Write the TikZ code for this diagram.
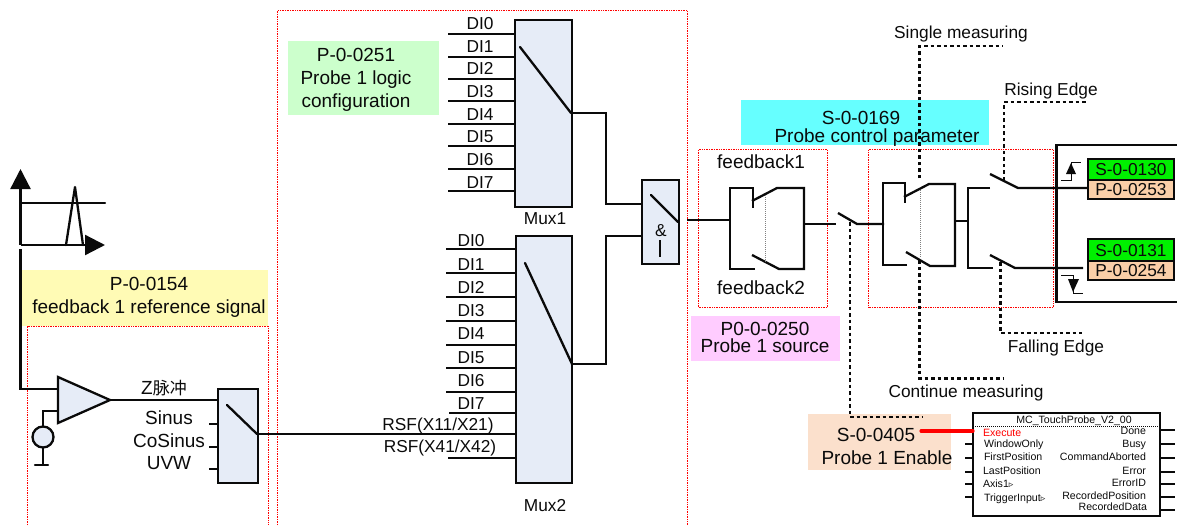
\documentclass[tikz,border=0pt]{standalone}
\usepackage{fontspec}
\setmainfont{Liberation Sans}
\newfontfamily\cjkf{Noto Sans CJK SC}
\newfontfamily\symf{DejaVu Sans}
\usetikzlibrary{arrows.meta}
\definecolor{muxfill}{HTML}{E6ECF7}
\definecolor{regorange}{HTML}{FACFA8}
\definecolor{regenable}{HTML}{FBE0CC}
\definecolor{reggreen}{HTML}{00F000}
\definecolor{palegreen}{HTML}{CCFFCC}
\definecolor{palecyan}{HTML}{66FFFF}
\definecolor{paleyellow}{HTML}{FFFBB5}
\definecolor{palepink}{HTML}{FFCCFF}
\definecolor{ink}{HTML}{0A0A0A}
\tikzset{
  wire/.style={draw=ink,line width=2.3pt,line cap=round,line join=miter},
  ctrl/.style={draw=ink,line width=2.3pt,dash pattern=on 3.5pt off 3pt},
  link/.style={draw=gray,line width=.9pt,dash pattern=on 1pt off 1pt},
  region/.style={draw=red,line width=.9pt,dash pattern=on 1pt off .7pt},
  muxbox/.style={draw=ink,fill=muxfill,line width=2.3pt,inner sep=0pt,outer sep=0pt},
  band/.style={inner sep=0pt,outer sep=0pt,draw=none},
  reg/.style={draw=ink,line width=2.3pt,inner sep=0pt,outer sep=0pt,minimum width=86pt},
  big/.style={font=\fontsize{19}{22}\selectfont,text=ink,text height=13.7pt,text depth=0pt,inner sep=0pt,outer sep=0pt},
  mid/.style={font=\fontsize{17.3}{21}\selectfont,text=ink,text height=12.4pt,text depth=0pt,inner sep=0pt,outer sep=0pt},
  pin/.style={font=\fontsize{10.6}{12}\selectfont,text=ink,text height=7.7pt,text depth=0pt,inner sep=0pt,outer sep=0pt},
  tip/.style={-{Triangle[length=#1,width=#1]}},
}
\begin{document}
\begin{tikzpicture}[x=1pt,y=-1pt]
\useasboundingbox (0,0) rectangle (1177,525);
% colour bands
\node[band,fill=paleyellow,minimum width=246pt,minimum height=56pt] (yellow) at (145,298) {};
\node[band,fill=palegreen,minimum width=151pt,minimum height=74pt] (green) at (363.5,78) {};
\node[band,fill=palecyan,minimum width=248pt,minimum height=45pt] (cyan) at (865,122.5) {};
\node[band,fill=palepink,minimum width=149pt,minimum height=45pt] (pink) at (765.5,338.5) {};
\node[band,fill=regenable,minimum width=143pt,minimum height=56pt] (enable) at (879.5,442) {};
% dotted regions
\draw[region] (27.5,525) -- (27.5,326) -- (268.5,326) -- (268.5,525);
\draw[region] (277.5,525) -- (277.5,10.5) -- (687.5,10.5) -- (687.5,525);
\node[region,minimum width=129pt,minimum height=158pt,inner sep=0pt] (fbregion) at (763,228.5) {};
\node[region,minimum width=185pt,minimum height=158pt,inner sep=0pt] (modeRegion) at (961,228.5) {};
% texts on bands
\node[big] (t154a) at (149,284) {P-0-0154};
\node[big] (t154b) at (149,307) {feedback 1 reference signal};
\node[big] (t251a) at (356,55) {P-0-0251};
\node[big] (t251b) at (356,78) {Probe 1 logic};
\node[big] (t251c) at (356,101) {configuration};
\node[big] (t169a) at (861,118) {S-0-0169};
\node[big] (t169b) at (877,136) {Probe control parameter};
\node[big] (t250a) at (765,329) {P0-0-0250};
\node[big] (t250b) at (765,346) {Probe 1 source};
\node[big] (t405a) at (876,435) {S-0-0405};
\node[big] (t405b) at (887,458) {Probe 1 Enable};
% reference signal sketch
\coordinate (origin) at (20.5,245);
\coordinate (ytip) at (20.5,169);
\coordinate (xtip) at (105,245);
\coordinate (lvlL) at (20.5,203);
\coordinate (lvlR) at (105,203);
\coordinate (pA) at (66,245);
\coordinate (pB) at (75,187);
\coordinate (pC) at (83,245);
\draw[wire,tip=20pt,line cap=butt] (origin) -- (ytip);
\draw[wire,tip=20pt,line cap=butt] (origin) -- (xtip);
\draw[wire] (lvlL) -- (lvlR);
\draw[wire,line join=round] (pA) -- (pB) -- (pC);
% comparator
\coordinate (cmpA) at (58,377);
\coordinate (cmpB) at (58,423);
\coordinate (cmpC) at (110,400);
\coordinate (fbStart) at (20.5,249);
\coordinate (cmpIn) at (58,389);
\coordinate (cmpRef) at (58,411);
\draw[wire,line cap=butt] (fbStart) |- (cmpIn);
\draw[wire,fill=muxfill,line join=miter] (cmpA) -- (cmpC) -- (cmpB) -- cycle;
\node[draw=ink,fill=muxfill,line width=2.3pt,circle,minimum size=21pt,inner sep=0pt,outer sep=0pt] (refsrc) at (43,437) {};
\draw[wire,line cap=butt] (refsrc.north) |- (cmpRef);
\coordinate (gnd) at (43,465);
\coordinate (gndL) at (35,465);
\coordinate (gndR) at (48,465);
\draw[wire,line cap=butt] (refsrc.south) -- (gnd);
\draw[wire] (gndL) -- (gndR);
% feedback selector
\node[muxbox,minimum width=40pt,minimum height=94pt] (fbsel) at (238,436) {};
\coordinate (fbA) at (227,405);
\coordinate (fbB) at (257,434);
\draw[wire] (fbA) -- (fbB);
\draw[wire,line cap=butt] (cmpC) -- (fbsel.west |- cmpC);
\foreach \n/\y in {a/424,b/447,c/469}{
  \coordinate (fbin\n) at (209,\y);
  \draw[wire,line cap=butt] (fbin\n) -- (fbsel.west |- fbin\n);
}
\node[big] (zlab) at (164,388) {Z{\cjkf\fontsize{17}{20}\selectfont 脉冲}};
\node[big] (sinus) at (169,418) {Sinus};
\node[big] (cosinus) at (169,441) {CoSinus};
\node[big] (uvw) at (169,463) {UVW};
% Mux1
\node[muxbox,minimum width=57pt,minimum height=187pt] (muxa) at (543.5,113.5) {};
\coordinate (maA) at (520,47);
\coordinate (maB) at (571,113);
\draw[wire] (maA) -- (maB);
\foreach \i/\y/\ly in {0/34/23,1/57/46,2/79/68,3/101/91,4/124/114,5/146/136,6/169/159,7/191/182}{
  \coordinate (ain\i) at (448,\y);
  \draw[wire,line cap=butt] (ain\i) -- (muxa.west |- ain\i);
  \node[mid] (alab\i) at (480,\ly) {DI\i};
}
\node[mid] (muxalab) at (545,218) {Mux1};
% Mux2
\node[muxbox,minimum width=56pt,minimum height=247pt] (muxb) at (544,359.5) {};
\coordinate (mbA) at (525,263);
\coordinate (mbB) at (572,364);
\draw[wire] (mbA) -- (mbB);
\foreach \i/\y/\ly/\x in {0/249/240/446,1/273/264/446,2/297/287/446,3/321/310/446,4/345/333/446,5/368/357/446,6/392/380/446,7/413/403/449}{
  \coordinate (bin\i) at (\x,\y);
  \draw[wire,line cap=butt] (bin\i) -- (muxb.west |- bin\i);
  \node[mid] (blab\i) at (471,\ly) {DI\i};
}
\coordinate (rsfb) at (448,458);
\draw[wire,line cap=butt] (rsfb) -- (muxb.west |- rsfb);
\draw[wire,line cap=butt] (fbB) -- (muxb.west |- fbB);
\node[mid] (rsfalab) at (438,424) {RSF(X11/X21)};
\node[mid] (rsfblab) at (440,446) {RSF(X41/X42)};
\node[mid] (muxblab) at (545,505) {Mux2};
% AND selector
\node[muxbox,minimum width=37pt,minimum height=84pt] (andsel) at (660.5,222) {};
\coordinate (andA) at (651,195);
\coordinate (andB) at (678,222);
\coordinate (barA) at (660,240);
\coordinate (barB) at (660,257);
\draw[wire] (andA) -- (andB);
\draw[wire,line cap=butt] (barA) -- (barB);
\node[mid] (andlab) at (661,230) {\&};
\coordinate (aRiseA) at (606,204);
\coordinate (aRiseB) at (606,236);
\coordinate (maOut) at (606,113);
\coordinate (mbOut) at (606,364);
\draw[wire,line cap=butt] (maB) -- (maOut) -- (aRiseA) -- (andsel.west |- aRiseA);
\draw[wire,line cap=butt] (mbB) -- (mbOut) -- (aRiseB) -- (andsel.west |- aRiseB);
% feedback switch pair
\coordinate (andOut) at (687,220);
\coordinate (fsL) at (730,220);
\coordinate (fsTL) at (730,188);
\coordinate (fsBL) at (730,269);
\coordinate (fsTM) at (753,188);
\coordinate (fsTS) at (753,208);
\coordinate (fsBM) at (755,269);
\coordinate (fcA) at (752,201);
\coordinate (fcB) at (777,188);
\coordinate (fcC) at (804,188);
\coordinate (fcD) at (804,269);
\coordinate (fcE) at (779,269);
\coordinate (fcF) at (752,255);
\coordinate (fsOut) at (804,224);
\coordinate (enInEnd) at (836,224);
\draw[wire,line cap=butt] (andOut) -- (fsL);
\draw[wire,line cap=butt] (fsBM) -- (fsBL) -- (fsTL) -- (fsTM) -- (fsTS);
\draw[wire,line cap=butt] (fcA) -- (fcB) -- (fcC) -- (fcD) -- (fcE) -- (fcF);
\draw[link] (765,195) -- (765,262);
\draw[wire,line cap=butt] (fsOut) -- (enInEnd);
\node[big] (fb1) at (761,162) {feedback1};
\node[big] (fb2) at (761,288) {feedback2};
% enable switch
\coordinate (enA) at (838,213);
\coordinate (enB) at (857,224);
\coordinate (modeIn) at (884,224);
\draw[wire,line cap=butt] (enA) -- (enB) -- (modeIn);
\coordinate (enCtl) at (850,222);
\coordinate (enCtlB) at (850,417);
\coordinate (enCtlC) at (922,417);
\draw[ctrl] (enCtl) -- (enCtlB) -- (enCtlC);
% mode switch pair
\coordinate (msTL) at (883,183);
\coordinate (msBL) at (883,265);
\coordinate (msTM) at (905,183);
\coordinate (msTS) at (905,203);
\coordinate (msBM) at (907,265);
\coordinate (mcA) at (904,197);
\coordinate (mcB) at (929,184);
\coordinate (mcC) at (955,184);
\coordinate (mcD) at (955,266);
\coordinate (mcE) at (930,266);
\coordinate (mcF) at (906,252);
\draw[wire,line cap=butt] (msBM) -- (msBL) -- (msTL) -- (msTM) -- (msTS);
\draw[wire,line cap=butt] (mcA) -- (mcB) -- (mcC) -- (mcD) -- (mcE) -- (mcF);
\draw[link] (920,190) -- (920,258);
\coordinate (sCtlA) at (919.5,178);
\coordinate (sCtlB) at (919.5,46);
\coordinate (sCtlC) at (1003,46);
\draw[ctrl] (sCtlA) -- (sCtlB) -- (sCtlC);
\coordinate (cCtlA) at (919.5,260);
\coordinate (cCtlB) at (919.5,378.5);
\coordinate (cCtlC) at (1003,378.5);
\draw[ctrl] (cCtlA) -- (cCtlB) -- (cCtlC);
\node[mid] (single) at (961,32) {Single measuring};
\node[mid] (continue) at (966,391) {Continue measuring};
% edge switches
\coordinate (ms2A) at (955,221);
\coordinate (ms2B) at (968,221);
\coordinate (esT) at (968,188);
\coordinate (esB) at (968,268);
\coordinate (esTE) at (990,188);
\coordinate (esBE) at (993,268);
\draw[wire,line cap=butt] (ms2A) -- (ms2B);
\draw[wire,line cap=butt] (esTE) -- (esT) -- (esB) -- (esBE);
\coordinate (rsA) at (990,174);
\coordinate (rsB) at (1018,188);
\coordinate (fsA) at (990,255);
\coordinate (fsB) at (1015,268);
\coordinate (rCtlA) at (1004,180);
\coordinate (rCtlB) at (1004,102);
\coordinate (rCtlC) at (1086,102);
\draw[ctrl] (rCtlA) -- (rCtlB) -- (rCtlC);
\coordinate (fCtlA) at (1000.5,262);
\coordinate (fCtlB) at (1000.5,333);
\coordinate (fCtlC) at (1082,333);
\draw[ctrl] (fCtlA) -- (fCtlB) -- (fCtlC);
\node[mid] (rising) at (1051,89) {Rising Edge};
\node[mid] (falling) at (1056,346) {Falling Edge};
% result frame
\draw[wire,line cap=butt] (1177,145) -- (1056.5,145) -- (1056.5,302) -- (1177,302);
% registers
\node[reg,fill=reggreen,minimum height=21pt] (s130) at (1131,169.5) {};
\node[reg,fill=regorange,minimum height=19pt] (p253) at (1131,189.5) {};
\node[reg,fill=reggreen,minimum height=22pt] (s131) at (1131,250) {};
\node[reg,fill=regorange,minimum height=19pt] (p254) at (1131,270.5) {};
\node[mid] (s130t) at (s130) {S-0-0130};
\node[mid] (p253t) at (p253) {P-0-0253};
\node[mid] (s131t) at (s131) {S-0-0131};
\node[mid] (p254t) at (p254) {P-0-0254};
\draw[wire,line cap=butt] (rsA) -- (rsB) -- (p253.west |- rsB);
\coordinate (fsEnd) at (1083,268);
\draw[wire,line cap=butt] (fsA) -- (fsB) -- (fsEnd);
% edge icons
\coordinate (upA) at (1061,180);
\coordinate (upB) at (1071,180);
\coordinate (upC) at (1071,162);
\coordinate (upD) at (1081,162);
\draw[draw=ink,line width=1pt] (upA) -- (upB) -- (upC) -- (upD);
\fill[ink] (1071,163) -- (1076,174) -- (1066,174) -- cycle;
\coordinate (dnA) at (1061,275);
\coordinate (dnB) at (1073,275);
\coordinate (dnC) at (1073,293);
\coordinate (dnD) at (1083,293);
\draw[draw=ink,line width=1pt] (dnA) -- (dnB) -- (dnC) -- (dnD);
\fill[ink] (1073,292) -- (1079,279) -- (1068,279) -- cycle;
% function block
\node[draw=ink,line width=1.8pt,minimum width=187pt,minimum height=103pt,inner sep=0pt,outer sep=0pt] (mc) at (1066.5,464.5) {};
\coordinate (dotL) at (973,426);
\coordinate (dotR) at (1160,426);
\draw[draw=ink,line width=.9pt,dash pattern=on 1pt off 1pt] (dotL) -- (dotR);
\node[pin] (mctitle) at (1074,419.5) {MC\_TouchProbe\_V2\_00};
\foreach \i/\y in {a/444,b/458,c/472,d/484,e/497}{
  \coordinate (lp\i) at (965,\y);
  \draw[wire,line cap=butt] (lp\i) -- (mc.west |- lp\i);
}
\foreach \i/\y in {a/430,b/444,c/458,d/472,e/484,f/497,g/510}{
  \coordinate (rp\i) at (1175,\y);
  \draw[wire,line cap=butt] (mc.east |- rp\i) -- (rp\i);
}
\coordinate (enOut) at (921,431);
\draw[draw=red,line width=3.2pt,line cap=round] (enOut) -- (mc.west |- enOut);
\node[pin,text=red,anchor=west] (pex) at (983,433) {Execute};
\node[pin,anchor=west] (pwo) at (984,444) {WindowOnly};
\node[pin,anchor=west] (pfp) at (984,457) {FirstPosition};
\node[pin,anchor=west] (plp) at (983,471) {LastPosition};
\node[pin,anchor=west] (pax) at (983,484) {Axis1{\symf\fontsize{9}{10}\selectfont ▹}};
\node[pin,anchor=west] (pti) at (984,498) {TriggerInput{\symf\fontsize{9}{10}\selectfont ▹}};
\node[pin,anchor=east] (pdo) at (1146,431) {Done};
\node[pin,anchor=east] (pbu) at (1146,444) {Busy};
\node[pin,anchor=east] (pca) at (1146,457) {CommandAborted};
\node[pin,anchor=east] (per) at (1146,471) {Error};
\node[pin,anchor=east] (pei) at (1146,483) {ErrorID};
\node[pin,anchor=east] (prp) at (1146,496) {RecordedPosition};
\node[pin,anchor=east] (prd) at (1147,507) {RecordedData};
\end{tikzpicture}
\end{document}
